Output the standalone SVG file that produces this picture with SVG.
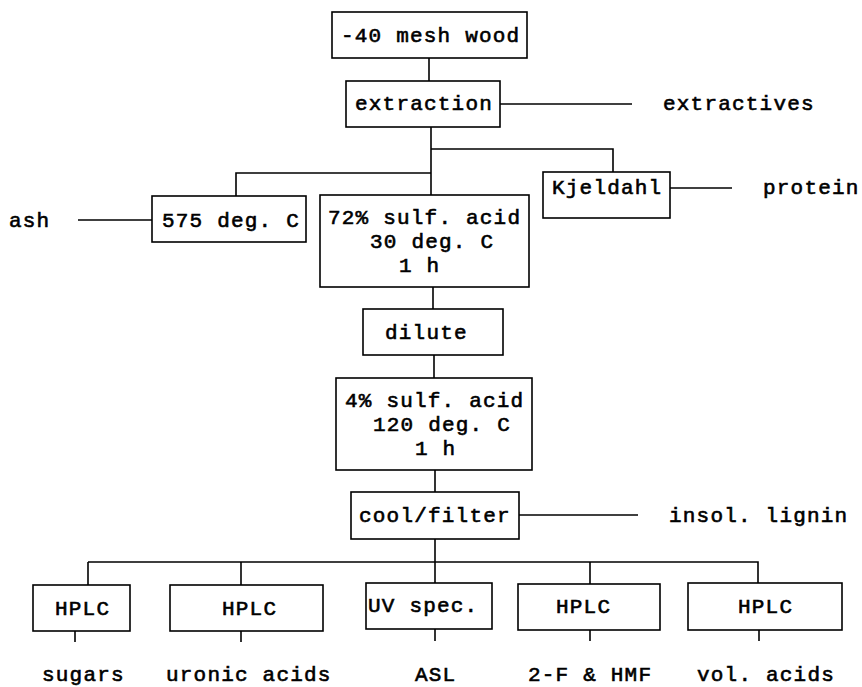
<svg xmlns="http://www.w3.org/2000/svg" width="862" height="687" viewBox="0 0 862 687">
<style>
  .box { fill: #fff; stroke: #000; stroke-width: 1.6; }
  .ln { fill: none; stroke: #000; stroke-width: 1.6; }
  text { font-family: "Liberation Mono", "Courier New", monospace; font-size: 21px; letter-spacing: 1.2px; font-weight: normal; fill: #000; stroke: #000; stroke-width: 0.6px; }
</style>
<rect width="862" height="687" fill="#fff"/>
<g id="connectors">
  <path class="ln" d="M429,58 V82"/>
  <path class="ln" d="M500,104 H632"/>
  <path class="ln" d="M431,127 V195"/>
  <path class="ln" d="M431,149 H613 V172"/>
  <path class="ln" d="M431,173 H236 V196"/>
  <path class="ln" d="M78,220 H152"/>
  <path class="ln" d="M670,188 H732"/>
  <path class="ln" d="M433,287 V309"/>
  <path class="ln" d="M434,355 V378"/>
  <path class="ln" d="M435,470 V492"/>
  <path class="ln" d="M519,515 H638"/>
  <path class="ln" d="M435,539 V584"/>
  <path class="ln" d="M88,562 H758 V584"/>
  <path class="ln" d="M88,562 V585"/>
  <path class="ln" d="M241,562 V585"/>
  <path class="ln" d="M590,562 V584"/>
  <path class="ln" d="M75,631 V642"/>
  <path class="ln" d="M241,631 V642"/>
  <path class="ln" d="M435,629 V641"/>
  <path class="ln" d="M590,630 V641"/>
  <path class="ln" d="M759,630 V641"/>
</g>
<g id="mesh-wood"><rect class="box" x="332" y="12" width="195" height="46"/><text x="341" y="42">-40 mesh wood</text></g>
<g id="extraction"><rect class="box" x="346" y="81" width="154" height="46"/><text x="355" y="110">extraction</text></g>
<g id="extractives"><text x="663" y="110">extractives</text></g>
<g id="furnace"><rect class="box" x="152" y="196" width="154" height="46"/><text x="162" y="227">575 deg. C</text></g>
<g id="ash"><text x="9" y="227">ash</text></g>
<g id="acid72"><rect class="box" x="320" y="195" width="209" height="92"/><text x="328" y="224">72% sulf. acid</text><text x="370" y="248">30 deg. C</text><text x="399" y="272">1 h</text></g>
<g id="kjeldahl"><rect class="box" x="543" y="172" width="127" height="46"/><text x="552" y="194">Kjeldahl</text></g>
<g id="protein"><text x="763" y="194">protein</text></g>
<g id="dilute"><rect class="box" x="363" y="309" width="140" height="46"/><text x="385" y="339">dilute</text></g>
<g id="acid4"><rect class="box" x="336" y="378" width="196" height="92"/><text x="345" y="407">4% sulf. acid</text><text x="373" y="431">120 deg. C</text><text x="415" y="455">1 h</text></g>
<g id="cool-filter"><rect class="box" x="351" y="492" width="168" height="47"/><text x="359" y="522">cool/filter</text></g>
<g id="lignin"><text x="669" y="522">insol. lignin</text></g>
<g id="hplc1"><rect class="box" x="33" y="585" width="97" height="46"/><text x="55" y="615">HPLC</text></g>
<g id="hplc2"><rect class="box" x="170" y="585" width="153" height="46"/><text x="222" y="615">HPLC</text></g>
<g id="uv"><rect class="box" x="366" y="583" width="126" height="46"/><text x="368" y="612">UV spec.</text></g>
<g id="hplc4"><rect class="box" x="518" y="584" width="142" height="46"/><text x="556" y="613">HPLC</text></g>
<g id="hplc5"><rect class="box" x="688" y="583" width="154" height="47"/><text x="738" y="613">HPLC</text></g>
<g id="outputs">
  <text x="42" y="681">sugars</text>
  <text x="166" y="681">uronic acids</text>
  <text x="415" y="681">ASL</text>
  <text x="528" y="681">2-F &amp; HMF</text>
  <text x="697" y="681">vol. acids</text>
</g>
</svg>
